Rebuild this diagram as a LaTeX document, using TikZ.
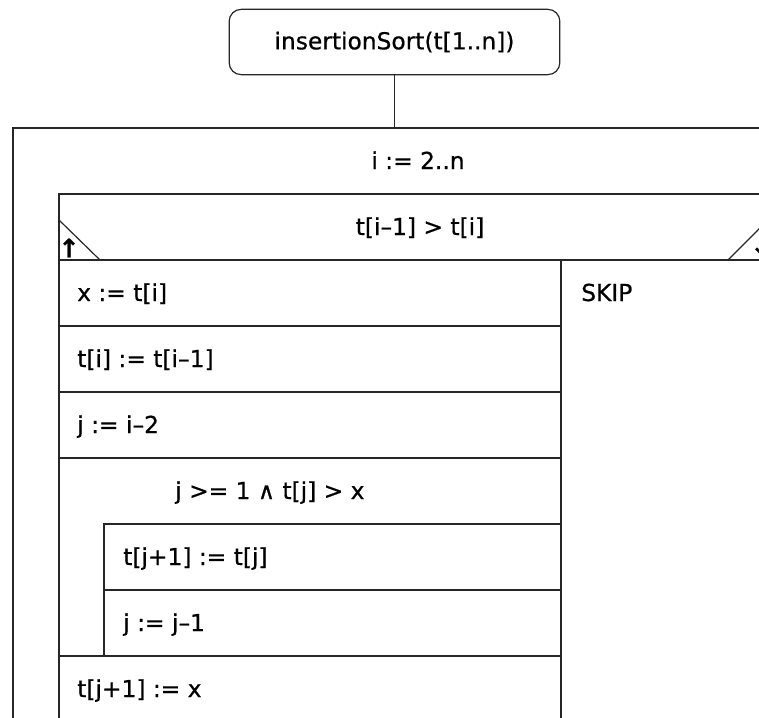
\documentclass[tikz,border=0pt]{standalone}
\usepackage{fontspec}
\setmainfont{DejaVu Sans}[FakeBold=0.6]

\tikzset{
  nsline/.style={line width=0.9pt, draw=black!85},
  topbox/.style={nsline, rounded corners=9pt, minimum width=248pt,
    minimum height=49pt, inner sep=0pt},
  stmt/.style={anchor=base west, inner sep=0pt},
  cond/.style={anchor=base, inner sep=0pt},
  dirmark/.style={inner sep=0pt, font=\fontsize{19}{22}\selectfont\bfseries},
}

\begin{document}
\begin{tikzpicture}[x=0.75pt, y=-0.75pt, font=\fontsize{17.5}{21}\selectfont]
    \useasboundingbox (0,0) rectangle (759,717);
    \clip (0,0) rectangle (759,717);

    % head of the diagram
    \node[topbox] (sort) at (394.5,42) {insertionSort(t[1..n])\hspace{14pt}};
    \coordinate (loopTop) at (394.5,128);
    \draw[nsline] (sort) -- (loopTop);

    % outer loop and the if block
    \draw[nsline] (13,128) rectangle (850,850);
    \draw[nsline] (59,194) rectangle (768,850);
    \draw[nsline] (59,260) -- (768,260);
    \draw[nsline] (59,220) -- (100,260);
    \draw[nsline] (728,260) -- (768,220);
    \draw[nsline] (561,260) -- (561,850);
    \foreach \y in {326,392,458,656}
        \draw[nsline] (59,\y) -- (561,\y);

    % inner while loop
    \draw[nsline] (104,524) rectangle (561,656);
    \draw[nsline] (104,590) -- (561,590);

    \node[dirmark] (up) at (69,248) {↑};
    \node[dirmark] (down) at (761,245) {↓};

    \node[cond] (range) at (418,169) {i := 2..n};
    \node[cond] (test) at (420,235) {t[i–1] > t[i]};
    \node[stmt] (s1) at (77,301) {x := t[i]};
    \node[stmt] (skip) at (581,301) {SKIP};
    \node[stmt] (s2) at (77,367) {t[i] := t[i–1]};
    \node[stmt] (s3) at (77,433) {j := i–2};
    \node[stmt] (while) at (175,499) {j >= 1 ∧ t[j] > x};
    \node[stmt] (s4) at (123,565) {t[j+1] := t[j]};
    \node[stmt] (s5) at (123,631) {j := j–1};
    \node[stmt] (s6) at (77,697) {t[j+1] := x};
\end{tikzpicture}
\end{document}
